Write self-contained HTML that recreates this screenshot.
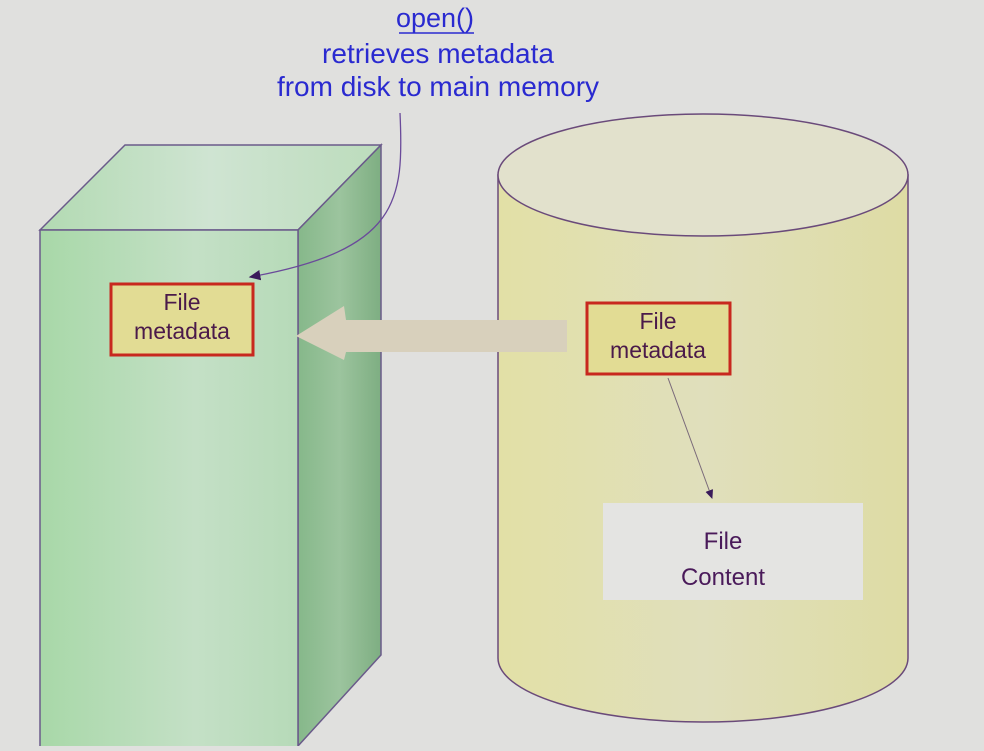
<!DOCTYPE html>
<html><head><style>
body{margin:0;width:984px;height:746px;background:#e0e0de;overflow:hidden;font-family:"Liberation Sans",sans-serif}
</style></head><body>
<svg width="984" height="746" viewBox="0 0 984 746" xmlns="http://www.w3.org/2000/svg">
<defs>
<linearGradient id="gf" x1="0" x2="1"><stop offset="0" stop-color="#a8d8a8"/><stop offset="0.6" stop-color="#c4e0c6"/><stop offset="1" stop-color="#b6dab8"/></linearGradient>
<linearGradient id="gs" x1="0" x2="1"><stop offset="0" stop-color="#86b88a"/><stop offset="0.5" stop-color="#9cc49e"/><stop offset="1" stop-color="#7eae82"/></linearGradient>
<linearGradient id="gt" x1="0" x2="1"><stop offset="0" stop-color="#b2dab2"/><stop offset="0.5" stop-color="#cfe4d2"/><stop offset="1" stop-color="#bcdcbc"/></linearGradient>
<linearGradient id="gc" x1="0" x2="1"><stop offset="0" stop-color="#e2e0a6"/><stop offset="0.5" stop-color="#e0dfbc"/><stop offset="1" stop-color="#dedca4"/></linearGradient>
<marker id="ah" markerWidth="10" markerHeight="10" refX="8" refY="5" orient="auto"><path d="M0,1 L9,5 L0,9 z" fill="#3a1a5a"/></marker>
</defs>
<polygon points="40,230 125,145 381,145 298,230" fill="url(#gt)" stroke="#6a5a8a" stroke-width="1.5"/>
<polygon points="298,230 381,145 381,655 298,746" fill="url(#gs)" stroke="#6a5a8a" stroke-width="1.5"/>
<rect x="40" y="230" width="258" height="520" fill="url(#gf)" stroke="#6a5a8a" stroke-width="1.5"/>
<path d="M498,175 L498,658 A205,64 0 0 0 908,658 L908,175 Z" fill="url(#gc)" stroke="#6a4a7a" stroke-width="1.5"/>
<ellipse cx="703" cy="175" rx="205" ry="61" fill="#e2e1cc" stroke="#6a4a7a" stroke-width="1.5"/>
<polygon points="567,320 346,320 344,306 296,336 344,360 346,352 567,352" fill="#d8d0bc"/>
<path d="M400,113 C404,200 400,250 250,277" fill="none" stroke="#6a4a9a" stroke-width="1.3" marker-end="url(#ah)"/>
<line x1="668" y1="378" x2="712" y2="498" stroke="#7a6a7a" stroke-width="1" marker-end="url(#ah)"/>
<rect x="111" y="284" width="142" height="71" fill="#e2dc94" stroke="#c8281e" stroke-width="3"/>
<text x="182" y="310" font-size="23" fill="#4a1a4a" text-anchor="middle">File</text>
<text x="182" y="339" font-size="23" fill="#4a1a4a" text-anchor="middle">metadata</text>
<rect x="587" y="303" width="143" height="71" fill="#e2dc94" stroke="#c8281e" stroke-width="3"/>
<text x="658" y="329" font-size="23" fill="#4a1a4a" text-anchor="middle">File</text>
<text x="658" y="358" font-size="23" fill="#4a1a4a" text-anchor="middle">metadata</text>
<rect x="603" y="503" width="260" height="97" fill="#e4e4e2"/>
<text x="723" y="549" font-size="24" fill="#4a1a5a" text-anchor="middle">File</text>
<text x="723" y="585" font-size="24" fill="#4a1a5a" text-anchor="middle">Content</text>
<text x="435" y="27" font-size="27" fill="#2a2ad0" text-anchor="middle">open()</text>
<line x1="399" y1="33" x2="474" y2="33" stroke="#2a2ad0" stroke-width="1.5"/>
<text x="438" y="63" font-size="28" fill="#2a2ad0" text-anchor="middle">retrieves metadata</text>
<text x="438" y="96" font-size="28" fill="#2a2ad0" text-anchor="middle">from disk to main memory</text>
</svg>
</body></html>
